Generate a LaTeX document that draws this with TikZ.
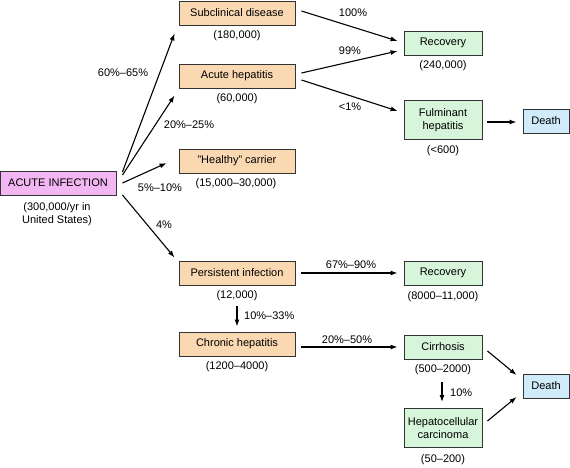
\documentclass[tikz,border=0pt]{standalone}
\usepackage{fontspec}
\setmainfont{Liberation Sans}
\usetikzlibrary{arrows.meta}
\tikzset{>={Latex[length=7pt,width=5pt]}}
\definecolor{peach}{RGB}{250,217,178}
\definecolor{mint}{RGB}{214,245,218}
\definecolor{sky}{RGB}{208,236,250}
\definecolor{pinky}{RGB}{242,182,242}
\tikzset{
  box/.style={draw=black!80,line width=0.9pt,minimum height=24pt,inner sep=2pt,align=center},
  stage/.style={box,fill=peach,minimum width=116pt},
  outcome/.style={box,fill=mint,minimum width=78pt},
  fatal/.style={box,fill=sky,minimum width=46pt},
  count/.style={inner sep=1pt,align=center},
  pct/.style={inner sep=1pt},
  flow/.style={->,line width=1.1pt}
}

\begin{document}
\begin{tikzpicture}[x=1pt,y=-1pt,font=\fontsize{11}{13}\selectfont]
  \useasboundingbox (0,0) rectangle (570,467);
  % boxes
  \node[box,fill=pinky,minimum width=116pt] (ai) at (58,183) {ACUTE INFECTION};
  \node[stage] (sub) at (237,13) {Subclinical disease};
  \node[stage] (acute) at (237,76) {Acute hepatitis};
  \node[stage] (carrier) at (237,161) {"Healthy" carrier};
  \node[stage] (persist) at (237,273) {Persistent infection};
  \node[stage] (chronic) at (237,344) {Chronic hepatitis};
  \node[outcome] (rec) at (443,43) {Recovery};
  \node[outcome,minimum height=39pt] (fulm) at (443,120) {Fulminant\\hepatitis};
  \node[fatal] (death) at (546,121) {Death};
  \node[outcome] (rec2) at (443,273) {Recovery};
  \node[outcome] (cirr) at (443,347) {Cirrhosis};
  \node[outcome,minimum height=39pt] (hcc) at (443,428) {Hepatocellular\\carcinoma};
  \node[fatal] (death2) at (546,386) {Death};
  % counts
  \node[count] (nai) at (57,214) {(300,000/yr in\\United States)};
  \node[count] (nsub) at (237,36) {(180,000)};
  \node[count] (nacute) at (237,99) {(60,000)};
  \node[count] (ncarrier) at (236,184) {(15,000--30,000)};
  \node[count] (npersist) at (237,296) {(12,000)};
  \node[count] (nchronic) at (237,367) {(1200--4000)};
  \node[count] (nrec) at (443,66) {(240,000)};
  \node[count] (nfulm) at (443,151) {(<600)};
  \node[count] (nrec2) at (443,297) {(8000--11,000)};
  \node[count] (ncirr) at (443,370) {(500--2000)};
  \node[count] (nhcc) at (443,460) {(50--200)};
  % percentages
  \node[pct] at (123,73) {60\%--65\%};
  \node[pct] at (189,125) {20\%--25\%};
  \node[pct] at (160,188) {5\%--10\%};
  \node[pct] at (164,225) {4\%};
  \node[pct] at (353,13) {100\%};
  \node[pct] at (350,51) {99\%};
  \node[pct] at (350,107) {<1\%};
  \node[pct] at (351,265) {67\%--90\%};
  \node[pct,anchor=west] at (243,316) {10\%--33\%};
  \node[pct] at (347,340) {20\%--50\%};
  \node[pct,anchor=west] at (449,393) {10\%};
  % arrows
  \draw[flow] ([shift={(6,-11)}]ai.east) -- ([shift={(-4,8)}]sub.south west);
  \draw[flow] ([shift={(6,-8)}]ai.east) -- ([shift={(-4,7)}]acute.south west);
  \draw[flow] ([shift={(6,0)}]ai.east) -- ([shift={(-12,2)}]carrier.west);
  \draw[flow] ([shift={(6,12)}]ai.east) -- ([shift={(-4,-3)}]persist.north west);
  \draw[flow] ([shift={(6,-2)}]sub.east) -- ([shift={(-6,-2)}]rec.west);
  \draw[flow] ([shift={(6,-3)}]acute.east) -- ([shift={(-6,8)}]rec.west);
  \draw[flow] ([shift={(6,4)}]acute.east) -- ([shift={(-6,-9)}]fulm.west);
  \draw[flow] ([shift={(5,2)}]fulm.east) -- ([shift={(-6,1)}]death.west);
  \draw[flow] ([xshift=6]persist.east) -- ([xshift=-6]rec2.west);
  \draw[flow] ([shift={(0,4)}]npersist.south) -- ([shift={(0,-5)}]chronic.north);
  \draw[flow] ([shift={(6,3)}]chronic.east) -- ([xshift=-6]cirr.west);
  \draw[flow] ([shift={(-1,6)}]ncirr.south) -- ([shift={(-1,-6)}]hcc.north);
  \draw[flow] ([shift={(5,4)}]cirr.east) -- ([shift={(-6,-11)}]death2.west);
  \draw[flow] ([shift={(5,-7)}]hcc.east) -- ([shift={(-6,11)}]death2.west);
\end{tikzpicture}
\end{document}
